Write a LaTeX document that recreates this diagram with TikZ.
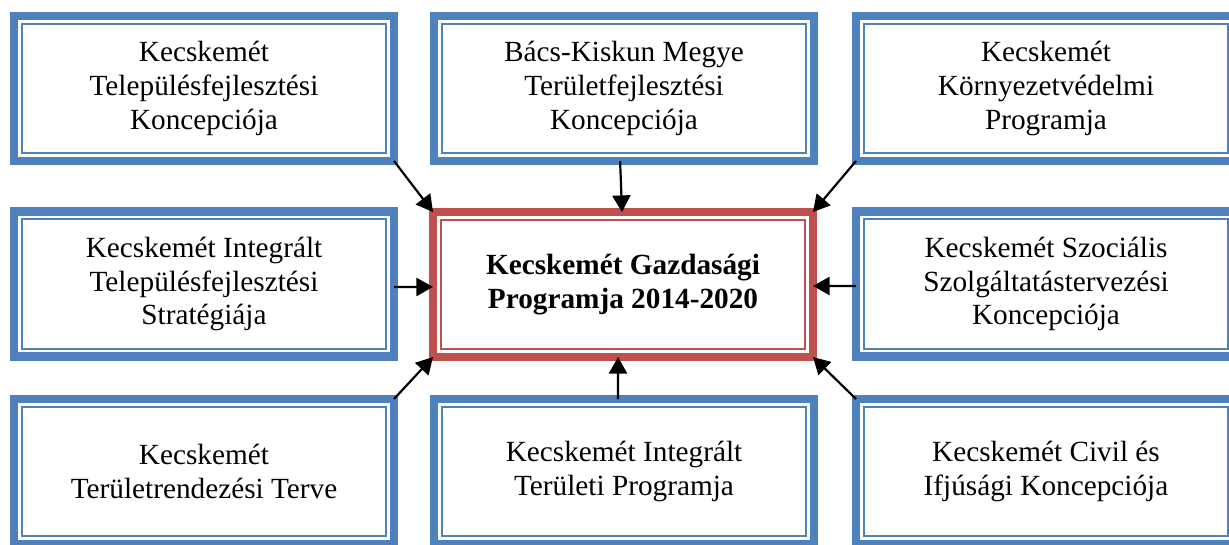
\documentclass[tikz,border=0pt]{standalone}
\usepackage{fontspec}
\setmainfont{Liberation Serif}
\usetikzlibrary{arrows.meta}

\definecolor{planblue}{RGB}{79,129,189}
\definecolor{planred}{RGB}{192,80,77}

\begin{document}
\begin{tikzpicture}[x=0.41pt,y=-0.41pt,
        plan/.style={rectangle,draw=planblue,line width=3.3pt,minimum width=155.8pt,
            minimum height=59.45pt,inner sep=0pt,outer sep=0pt,align=center,
            font=\fontsize{12}{13.8}\selectfont},
        mainplan/.style={plan,draw=planred,font=\fontsize{12}{13.8}\selectfont\bfseries},
        thinframe/.style={line width=0.8pt},
        feed/.style={line width=0.9pt,-{Triangle[length=6.8pt,width=7.4pt]}}]
        \useasboundingbox (0,0) rectangle (1229,544);
        % top row
        \node[plan] (tl) at (204,88.5) {Kecskemét\\Településfejlesztési\\Koncepciója};
        \node[plan] (tm) at (624,88.5) {Bács-Kiskun Megye\\Területfejlesztési\\Koncepciója};
        \node[plan] (tr) at (1046,88.5) {Kecskemét\\Környezetvédelmi\\Programja};
        % middle row
        \node[plan] (ml) at (204,284) {Kecskemét Integrált\\Településfejlesztési\\Stratégiája};
        \node[mainplan] (c) at (623,284.5) {Kecskemét Gazdasági\\Programja 2014-2020};
        \node[plan] (mr) at (1046,284) {Kecskemét Szociális\\Szolgáltatástervezési\\Koncepciója};
        % bottom row
        \node[plan] (bl) at (204,471.5) {Kecskemét\\Területrendezési Terve};
        \node[plan] (bm) at (624,471.5) {Kecskemét Integrált\\Területi Programja};
        \node[plan] (br) at (1046,471.5) {Kecskemét Civil és\\Ifjúsági Koncepciója};
        % thin inner frames
        \foreach \n/\col in {tl/planblue,tm/planblue,tr/planblue,ml/planblue,c/planred,
                mr/planblue,bl/planblue,bm/planblue,br/planblue}
            \draw[thinframe,\col] ([shift={(3.1pt,-3.1pt)}]\n.north west)
                rectangle ([shift={(-3.1pt,3.1pt)}]\n.south east);
        % arrows into the programme
        \draw[feed] (tl.south east) -- (c.north west);
        \draw[feed] ([xshift=-1.6pt]tm.south) -- ([xshift=-0.4pt]c.north);
        \draw[feed] (tr.south west) -- (c.north east);
        \draw[feed] ([yshift=-1.2pt]ml.east) -- ([yshift=-1pt]c.west);
        \draw[feed] ([yshift=-0.8pt]mr.west) -- ([yshift=-0.6pt]c.east);
        \draw[feed] (bl.north east) -- (c.south west);
        \draw[feed] ([xshift=-2.5pt]bm.north) -- ([xshift=-2pt]c.south);
        \draw[feed] (br.north west) -- (c.south east);
\end{tikzpicture}
\end{document}
